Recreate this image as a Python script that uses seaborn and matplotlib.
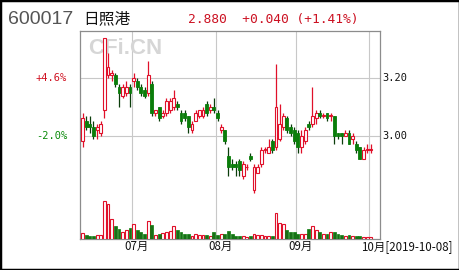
import numpy as np
import pandas as pd
import matplotlib
matplotlib.use("Agg")
import matplotlib.pyplot as plt
import matplotlib.transforms as mtransforms
from matplotlib.patches import Rectangle
import seaborn as sns

# ---------------- data ----------------
opens = [2.98, 3.05, 3.04, 3.03, 3.02, 3.01, 3.09, 3.21, 3.21, 3.21,
         3.17, 3.14, 3.15, 3.17, 3.19, 3.19, 3.17, 3.16, 3.15, 3.18,
         3.08, 3.10, 3.07, 3.08, 3.09, 3.10, 3.11, 3.08, 3.08, 3.07,
         3.02, 3.05, 3.07, 3.07, 3.11, 3.09, 3.10, 3.08, 3.02, 3.02,
         2.93, 2.90, 2.90, 2.91, 2.86, 2.89, 2.93, 2.81, 2.87, 2.90,
         2.95, 2.94, 2.98, 2.96, 2.99, 3.03, 3.06, 3.03, 3.02, 3.01,
         2.96, 2.98, 3.04, 3.04, 3.06, 3.08, 3.07, 3.08, 3.07, 3.07,
         3.01, 3.01, 3.00, 3.01, 2.99, 2.97, 2.96, 2.92, 2.95, 2.95]
closes = [3.06, 3.03, 3.03, 3.00, 3.03, 3.04, 3.34, 3.24, 3.22, 3.18,
          3.15, 3.17, 3.17, 3.15, 3.20, 3.17, 3.15, 3.14, 3.21, 3.08,
          3.09, 3.06, 3.08, 3.12, 3.12, 3.13, 3.10, 3.05, 3.06, 3.03,
          3.04, 3.08, 3.09, 3.09, 3.08, 3.10, 3.09, 3.06, 3.03, 2.98,
          2.89, 2.89, 2.89, 2.88, 2.90, 2.89, 2.92, 2.89, 2.89, 2.95,
          2.95, 2.96, 2.95, 3.10, 3.04, 3.07, 3.02, 3.01, 2.98, 2.96,
          3.00, 3.02, 3.03, 3.07, 3.08, 3.07, 3.07, 3.06, 3.07, 3.00,
          3.00, 3.00, 3.01, 2.97, 3.00, 2.95, 2.92, 2.95, 2.95, 2.95]
highs = [3.08, 3.07, 3.07, 3.05, 3.04, 3.05, 3.34, 3.29, 3.23, 3.22,
         3.18, 3.18, 3.19, 3.18, 3.22, 3.20, 3.18, 3.17, 3.26, 3.19,
         3.09, 3.10, 3.09, 3.13, 3.13, 3.16, 3.12, 3.09, 3.09, 3.07,
         3.05, 3.09, 3.09, 3.10, 3.12, 3.11, 3.13, 3.09, 3.04, 3.02,
         2.96, 2.92, 2.91, 2.92, 2.91, 2.90, 2.94, 2.90, 2.90, 2.96,
         2.96, 2.99, 2.99, 3.25, 3.11, 3.08, 3.07, 3.04, 3.03, 3.02,
         3.02, 3.03, 3.05, 3.17, 3.09, 3.09, 3.08, 3.08, 3.08, 3.07,
         3.01, 3.01, 3.02, 3.02, 3.01, 2.98, 2.96, 2.96, 2.97, 2.97]
lows = [2.96, 3.02, 3.01, 2.99, 2.99, 3.00, 3.06, 3.20, 3.19, 3.17,
        3.10, 3.13, 3.14, 3.10, 3.17, 3.16, 3.14, 3.13, 3.14, 3.07,
        3.07, 3.05, 3.06, 3.07, 3.08, 3.09, 3.09, 3.04, 3.05, 3.01,
        3.01, 3.05, 3.06, 3.06, 3.07, 3.08, 3.08, 3.05, 3.01, 2.97,
        2.86, 2.88, 2.86, 2.86, 2.85, 2.88, 2.91, 2.80, 2.87, 2.89,
        2.94, 2.94, 2.94, 2.95, 2.98, 3.02, 3.01, 3.00, 2.97, 2.94,
        2.94, 2.97, 3.02, 3.03, 3.04, 3.06, 3.06, 3.05, 3.05, 2.97,
        2.99, 2.97, 3.00, 2.97, 2.97, 2.94, 2.92, 2.92, 2.94, 2.94]
volumes = [60, 43, 33, 33, 40, 43, 380, 350, 200, 127,
           100, 67, 87, 110, 153, 93, 67, 53, 183, 140,
           43, 50, 60, 67, 80, 130, 93, 67, 53, 53,
           33, 50, 43, 43, 40, 33, 67, 43, 50, 50,
           77, 53, 33, 27, 30, 25, 33, 50, 43, 40,
           35, 33, 35, 260, 160, 150, 90, 67, 67, 53,
           53, 50, 100, 133, 93, 67, 50, 50, 67, 73,
           53, 40, 33, 40, 33, 27, 27, 23, 23, 23]

month_day_index = [14, 37, 59, 79]
month_labels = ["07月", "08月", "09月", "10月[2019-10-08]"]
price_ticks = [3.00, 3.20]
price_tick_labels = ["3.00", "3.20"]
pct_labels = ["-2.0%", "+4.6%"]
pct_colors = ["#0a8a0a", "#d01020"]
stock_code = "600017"
stock_name = "日照港"
quote_text = "2.880  +0.040 (+1.41%)"
watermark = "CFi.CN"

# ---------------- style ----------------
sns.set_theme(style="white")
plt.rcParams["font.family"] = ["DejaVu Sans", "Noto Sans CJK SC"]

RED = "#e0102a"
GREEN = "#0a7d0a"
WICK_GREEN = "#0b3d0b"

W, H = 460, 270
fig = plt.figure(figsize=(W / 100, H / 100), dpi=100)
fig.patch.set_facecolor("white")

ax = fig.add_axes([80 / W, 1 - 239 / H, 300 / W, 208 / H])
ax.set_facecolor("white")

o = np.array(opens)
c = np.array(closes)
h = np.array(highs)
l = np.array(lows)
idx = np.arange(len(o))
up = c >= o

# grid & frame
ax.set_xticks(np.array(month_day_index) - 0.4)
ax.set_yticks(price_ticks)
ax.grid(True, color="#c8c8c8", lw=0.8)
ax.set_axisbelow(True)
ax.tick_params(length=0, labelleft=False, labelbottom=False)
for s in ax.spines.values():
    s.set_color("#8c8c8c")
    s.set_linewidth(0.9)

# watermark (behind candles)
ax.text(88 / W, 1 - 48 / H, watermark, transform=fig.transFigure,
        fontsize=16, fontweight="bold", color="#d6d6d6",
        family="Liberation Sans", va="center", ha="left", zorder=1)

# candles
ax.vlines(idx[up], l[up], h[up], color=RED, lw=0.9, zorder=3)
ax.vlines(idx[~up], l[~up], h[~up], color=WICK_GREEN, lw=0.9, zorder=3)
body = np.maximum(np.abs(c - o), 0.002)
bottom = np.minimum(o, c)
ax.bar(idx[up], body[up], bottom=bottom[up], width=0.78,
       facecolor="white", edgecolor=RED, lw=0.8, zorder=4)
ax.bar(idx[~up], body[~up], bottom=bottom[~up], width=0.78,
       facecolor=GREEN, edgecolor=GREEN, lw=0.6, zorder=4)

# volume via seaborn on a twin axis
axv = ax.twinx()
df = pd.DataFrame({"i": idx, "vol": volumes,
                   "dir": np.where(up, "up", "down")})
sns.barplot(data=df, x="i", y="vol", hue="dir",
            palette={"up": "white", "down": GREEN},
            native_scale=True, dodge=False, width=0.78,
            errorbar=None, legend=False, ax=axv)
for p in axv.patches:
    fc = p.get_facecolor()
    if fc[0] > 0.9 and fc[1] > 0.9:
        p.set_edgecolor(RED)
        p.set_linewidth(0.8)
    else:
        p.set_edgecolor(GREEN)
        p.set_linewidth(0.5)
axv.set_ylim(0, 2080)
axv.set_yticks([])
axv.set_xlabel("")
axv.set_ylabel("")
axv.grid(False)
for s in axv.spines.values():
    s.set_visible(False)

ax.set_xlim(-0.685, 81.51)
ax.set_ylim(2.6395, 3.365)
axv.set_xlim(-0.685, 81.51)
ax.tick_params(length=0, labelleft=False, labelbottom=False)
axv.tick_params(length=0, labelbottom=False, labelright=False)

# price labels on both sides
ytrans = ax.get_yaxis_transform()
for val, lab, pl, pc in zip(price_ticks, price_tick_labels, pct_labels, pct_colors):
    ax.text(1 + 2 / 300, val, lab, transform=ytrans, ha="left", va="center",
            fontsize=7.5, family="DejaVu Sans Mono", color="#111111")
    ax.text(-13 / 300, val, pl, transform=ytrans, ha="right", va="center",
            fontsize=7.5, family="DejaVu Sans Mono", color=pc)

# month labels
xtrans = mtransforms.offset_copy(ax.get_xaxis_transform(), fig=fig, x=-8, y=0, units="dots")
for pos, lab in zip(month_day_index, month_labels):
    ax.text(pos - 0.4, -7.7 / 208, lab, transform=xtrans, ha="left", va="center",
            fontsize=8.3, family=["Noto Sans CJK SC", "DejaVu Sans"], color="#111111")

# header
fig.text(8 / W, 1 - 19 / H, stock_code, fontsize=14, color="#555555",
         family="Liberation Sans", ha="left", va="center")
fig.text(83 / W, 1 - 19 / H, stock_name, fontsize=11.3, color="#111111",
         family=["Noto Sans CJK SC", "DejaVu Sans"], ha="left", va="center")
fig.text(188 / W, 1 - 19 / H, quote_text, fontsize=9.3, color="#cc1122",
         family="DejaVu Sans Mono", ha="left", va="center")

# outer frame
fig.add_artist(Rectangle((0, 0), 1, 1, transform=fig.transFigure, fill=False,
                         edgecolor="black", lw=2.5))

fig.savefig("out.png", dpi=100)
